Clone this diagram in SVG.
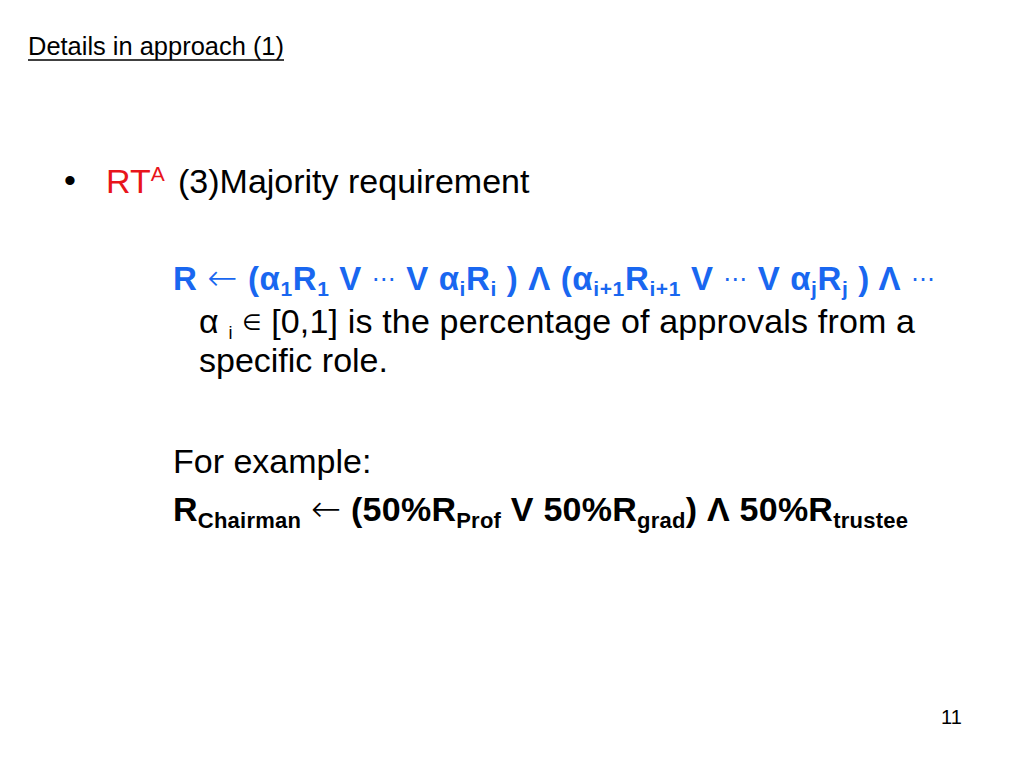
<svg xmlns="http://www.w3.org/2000/svg" width="1024" height="768" viewBox="0 0 1024 768">
<style>
text{font-family:"Liberation Sans",Arial,sans-serif;}
.t{font-size:25px;fill:#000;}
.b{font-size:34px;fill:#000;}
.blue{font-size:33px;font-weight:bold;fill:#1967f0;}
.blk{font-size:34px;font-weight:bold;fill:#000;}
.sub{font-size:21px;}
.sub2{font-size:22px;}
.arr{font-family:"DejaVu Sans",sans-serif;font-weight:200;font-size:36px;}
.dots{font-family:"DejaVu Sans",sans-serif;font-size:24px;font-weight:normal;}
.red{fill:#e8141b;}
</style>
<rect width="1024" height="768" fill="#fff"/>
<g id="title">
<text class="t" x="28" y="55" textLength="256" lengthAdjust="spacingAndGlyphs">Details in approach (1)</text>
<line x1="28" y1="60" x2="284" y2="60" stroke="#000" stroke-width="1.5"/>
</g>
<g id="bullet">
<text class="b" x="64" y="192">•</text>
<text class="b" x="106" y="193"><tspan class="red">RT</tspan><tspan class="red" font-size="21" dy="-12">A</tspan><tspan dy="12" x="178">(3)Majority requirement</tspan></text>
</g>
<g id="formula">
<text class="blue" x="173" y="290" textLength="762" lengthAdjust="spacing">R <tspan class="arr">←</tspan> (α<tspan class="sub" dy="6">1</tspan><tspan dy="-6">R</tspan><tspan class="sub" dy="6">1</tspan><tspan dy="-6"> V </tspan><tspan class="dots" dy="-3">⋯</tspan><tspan dy="3"> V α</tspan><tspan class="sub" dy="6">i</tspan><tspan dy="-6">R</tspan><tspan class="sub" dy="6">i</tspan><tspan dy="-6"> ) Λ (α</tspan><tspan class="sub" dy="6">i+1</tspan><tspan dy="-6">R</tspan><tspan class="sub" dy="6">i+1</tspan><tspan dy="-6"> V </tspan><tspan class="dots" dy="-3">⋯</tspan><tspan dy="3"> V α</tspan><tspan class="sub" dy="6">j</tspan><tspan dy="-6">R</tspan><tspan class="sub" dy="6">j</tspan><tspan dy="-6"> ) Λ </tspan><tspan class="dots" dy="-3">⋯</tspan></text>
</g>
<g id="desc">
<text class="b" x="199" y="333" textLength="716" lengthAdjust="spacing">α <tspan font-size="18" dy="6">i</tspan><tspan dy="-6"> </tspan><tspan font-family="DejaVu Sans, sans-serif" font-size="22" dy="-3">∈</tspan><tspan dy="3"> [0,1] is the percentage of approvals from a</tspan></text>
<text class="b" x="199" y="372">specific role.</text>
</g>
<g id="example">
<text class="b" x="173" y="473">For example:</text>
<text class="blk" x="173" y="521" textLength="735" lengthAdjust="spacing">R<tspan class="sub2" dy="7">Chairman</tspan><tspan dy="-7"> </tspan><tspan class="arr">←</tspan><tspan> (50%R</tspan><tspan class="sub2" dy="7">Prof</tspan><tspan dy="-7"> V 50%R</tspan><tspan class="sub2" dy="7">grad</tspan><tspan dy="-7">) Λ 50%R</tspan><tspan class="sub2" dy="7">trustee</tspan></text>
</g>
<g id="page">
<text x="941" y="724" font-size="20" fill="#000">11</text>
</g>
</svg>
